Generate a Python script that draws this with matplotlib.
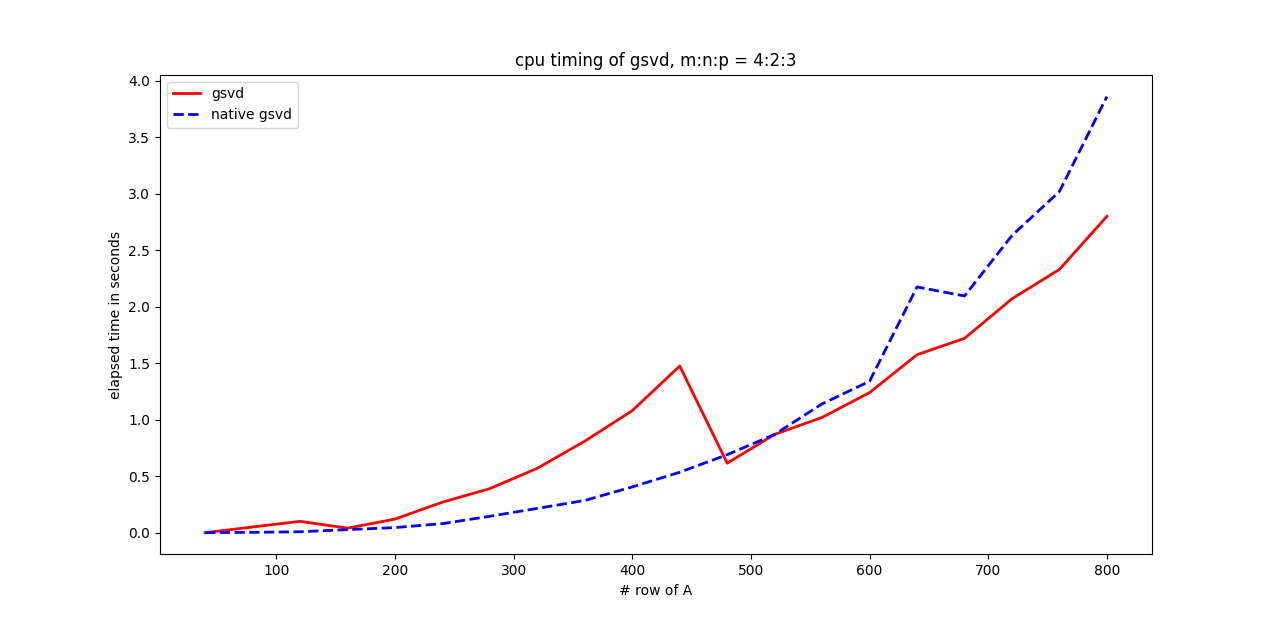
import matplotlib
matplotlib.use('Agg')
import matplotlib.pyplot as plt
import numpy as np

rows = np.arange(40, 801, 40)

gsvd_time = [0.0, 0.05, 0.10, 0.04, 0.12, 0.27, 0.39, 0.57, 0.81, 1.08,
             1.475, 0.615, 0.87, 1.02, 1.24, 1.575, 1.72, 2.07, 2.33, 2.80]
native_time = [0.0, 0.003, 0.008, 0.027, 0.045, 0.08, 0.145, 0.215, 0.285, 0.405,
               0.535, 0.69, 0.87, 1.14, 1.34, 2.175, 2.095, 2.63, 3.02, 3.86]

fig = plt.figure(figsize=(12.8, 6.23), dpi=100)
plt.plot(rows, gsvd_time, 'r-', linewidth=2, label='gsvd')
plt.plot(rows, native_time, 'b--', linewidth=2, label='native gsvd')
plt.xlabel('# row of A')
plt.ylabel('elapsed time in seconds')
plt.title('cpu timing of gsvd, m:n:p = 4:2:3')
plt.legend(loc='upper left')

plt.savefig('out.png', dpi=100)
